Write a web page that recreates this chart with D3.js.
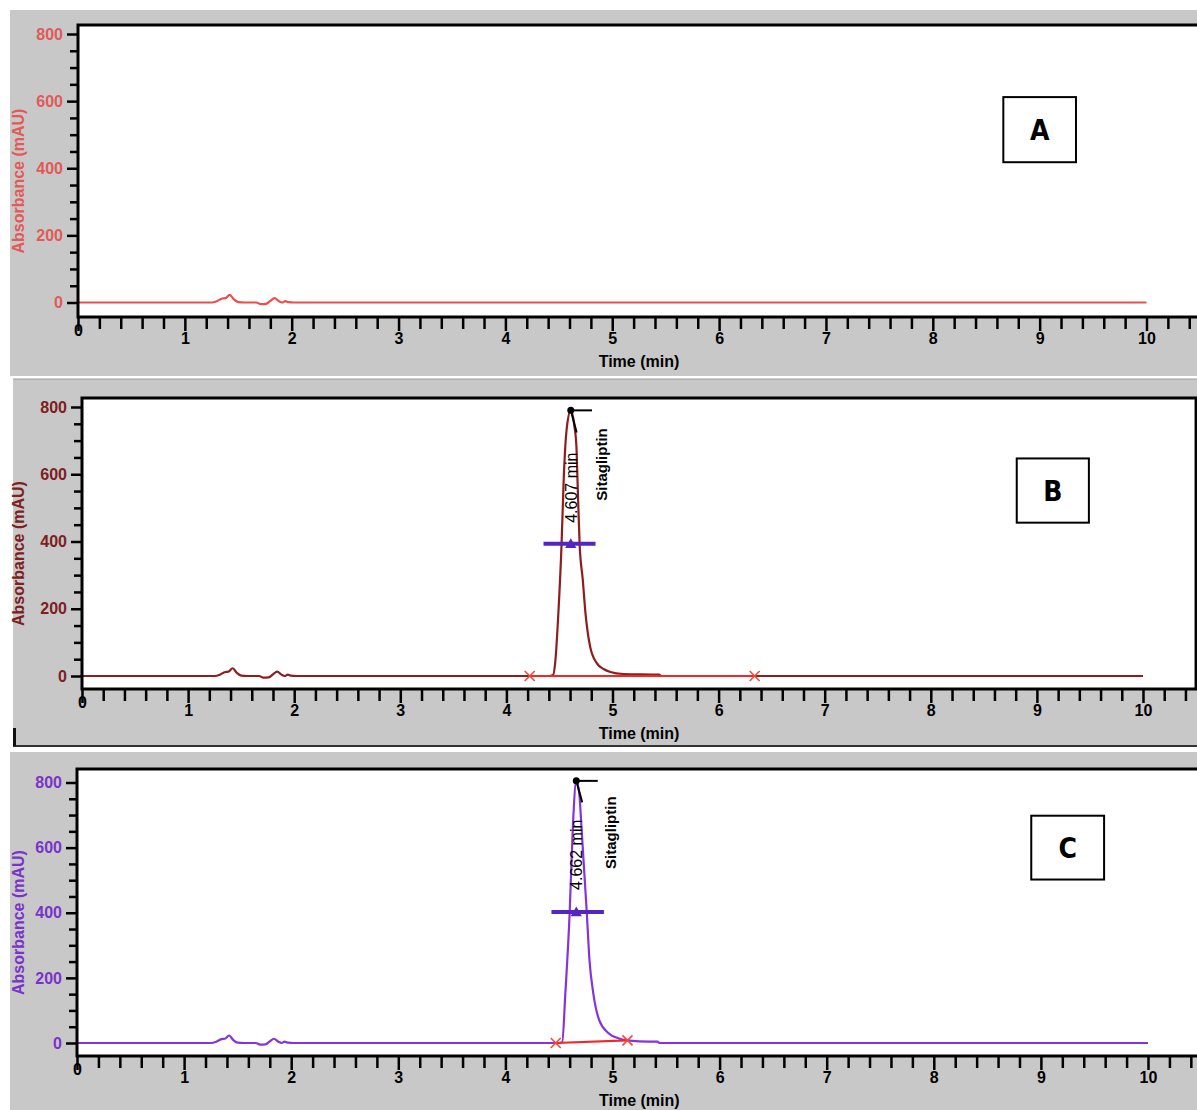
<!DOCTYPE html>
<html>
<head>
<meta charset="utf-8">
<script src="https://cdn.jsdelivr.net/npm/d3@7"></script>
<style>
body { margin: 0; background: #fff; }
svg { display: block; }
text { font-family: "Liberation Sans", Arial, sans-serif; }
</style>
</head>
<body>
<div id="visArea"></div>
<script>

// small peaks near the solvent front, same in every run (time min, mAU)
var frontPeaks = [[0,0],[1.25,0],[1.30,4],[1.35,12],[1.38,13],[1.42,23],[1.46,9],[1.50,1],[1.56,0],
                  [1.67,0],[1.71,-5],[1.76,-4],[1.80,5],[1.84,13],[1.88,4],[1.91,0],[1.94,4],[1.97,1],[2.02,0]];

// sitagliptin peak, standard run (B) and sample run (C)
var peakB = [[4.40,0],[4.44,3],[4.46,40],[4.49,188],[4.52,393],[4.54,584],[4.57,740],[4.607,790],
             [4.64,745],[4.66,682],[4.67,584],[4.69,393],[4.72,286],[4.745,188],[4.79,86],[4.85,39],
             [4.92,20],[4.98,12],[5.10,6],[5.44,4],[5.46,0]];
var peakC = [[4.50,0],[4.53,2],[4.56,154],[4.60,400],[4.63,665],[4.662,805],[4.69,765],[4.71,665],
             [4.76,400],[4.785,255],[4.82,154],[4.875,71],[4.96,31],[5.06,14],[5.14,8],[5.25,5],
             [5.42,4],[5.44,0]];
var runEnd = [[10,0]];

var traceA = frontPeaks.concat(runEnd);
var traceB = frontPeaks.concat(peakB, runEnd);
var traceC = frontPeaks.concat(peakC, runEnd);

// integration baselines (start / end marks)
var baselineB = [[4.22,0],[6.34,0]];
var baselineC = [[4.47,0],[5.14,8]];

// apex, half height width bar [from, to, height], labels
var apexB = [4.607, 790];
var apexC = [4.662, 805];
var halfB = [4.35, 4.84, 393];
var halfC = [4.43, 4.92, 402];
var rtLabels = ['4.607 min', '4.662 min'];
var rtLabelPos = [[4.607, 560], [4.662, 578]];
var peakName = 'Sitagliptin';
var namePos = [[4.90, 629], [4.99, 646]];

// panel letters and their boxes [t0, t1, vTop, vBottom]
var letters = ['A', 'B', 'C'];
var letterBoxes = [[8.66, 9.34, 612, 418], [8.81, 9.49, 647, 456], [8.91, 9.59, 698, 502]];

// axis ticks
var xTicks = d3.range(0, 11);
var xMinor = d3.range(1, 53).map(function(i){ return i / 5; }).filter(function(d){ return notWhole(d); });
var yTicks = [0, 200, 400, 600, 800];
var yMinor = [50, 100, 150, 250, 300, 350, 450, 500, 550, 650, 700, 750];

function notWhole(d){ return Math.abs(d - Math.round(d)) > 0.01; }


var svg = d3.select('#visArea')
            .append('svg')
            .attr('width', 1197)
            .attr('height', 1110);

var panels = [
  { trace: traceA, bg: [10, 10, 1187, 366], x0: 78, x10: 1146.5, y0: 302.5, y800: 34, top: 25, bottom: 317,
    axisColor: '#e05a58', lineColor: '#ea4f4c' },
  { trace: traceB, bg: [13, 379, 1184, 367], x0: 82, x10: 1143, y0: 676, y800: 407, top: 398, bottom: 689,
    axisColor: '#7c2020', lineColor: '#8e1d1d',
    baseline: baselineB, apex: apexB, half: halfB, rt: 0 },
  { trace: traceC, bg: [10, 752, 1187, 358], x0: 77, x10: 1148, y0: 1043, y800: 782.5, top: 769, bottom: 1056,
    axisColor: '#7a33c8', lineColor: '#8533dc',
    baseline: baselineC, apex: apexC, half: halfC, rt: 1 }
];

panels.forEach(function(p, i){ drawPanel(p, i); });

// frame lines of the middle screenshot
svg.append('line').attr('x1', 13).attr('x2', 1197).attr('y1', 379).attr('y2', 379)
   .style('stroke', '#9a9a9a').style('stroke-width', 1);
svg.append('line').attr('x1', 13).attr('x2', 1197).attr('y1', 746).attr('y2', 746)
   .style('stroke', '#333').style('stroke-width', 2);
svg.append('line').attr('x1', 14.5).attr('x2', 14.5).attr('y1', 728).attr('y2', 746)
   .style('stroke', '#111').style('stroke-width', 3);


function drawPanel(p, idx){
  var g = svg.append('g');

  g.append('rect')
   .attr('x', p.bg[0]).attr('y', p.bg[1])
   .attr('width', p.bg[2]).attr('height', p.bg[3])
   .attr('fill', '#c8c8c8');

  var x = d3.scaleLinear().domain([0, 10]).range([p.x0, p.x10]);
  var y = d3.scaleLinear().domain([0, 800]).range([p.y0, p.y800]);
  var xRight = x(10.5);

  g.append('rect')
   .attr('x', p.x0).attr('y', p.top)
   .attr('width', xRight - p.x0).attr('height', p.bottom - p.top)
   .attr('fill', '#ffffff');

  // x axis ticks
  var xm = g.append('g').attr('transform', 'translate(0,' + p.bottom + ')')
            .call(d3.axisBottom(x).tickValues(xMinor).tickSize(12).tickFormat(''));
  var xM = g.append('g').attr('transform', 'translate(0,' + p.bottom + ')')
            .call(d3.axisBottom(x).tickValues(xTicks).tickSize(14).tickPadding(2).tickFormat(d3.format('d')));
  xM.selectAll('text')
    .style('font-size', '16px').style('font-weight', 'bold').style('fill', '#000');
  xM.selectAll('.tick').filter(function(d){ return d === 0; }).select('text').attr('y', 8);

  // y axis ticks
  var ym = g.append('g').attr('transform', 'translate(' + p.x0 + ',0)')
            .call(d3.axisLeft(y).tickValues(yMinor).tickSize(8).tickFormat(''));
  var yM = g.append('g').attr('transform', 'translate(' + p.x0 + ',0)')
            .call(d3.axisLeft(y).tickValues(yTicks).tickSize(11).tickPadding(4));
  yM.selectAll('text')
    .style('font-size', '16px').style('font-weight', 'bold').style('fill', p.axisColor);

  [xm, xM, ym, yM].forEach(function(a){
    a.select('.domain').remove();
    a.selectAll('line').style('stroke', '#000').style('stroke-width', 2.5);
  });

  // axis titles
  g.append('text')
   .attr('transform', 'translate(24,' + ((p.top + p.bottom) / 2 + 10) + ') rotate(-90)')
   .style('text-anchor', 'middle')
   .style('font-size', '16px').style('font-weight', 'bold')
   .style('fill', p.axisColor)
   .text('Absorbance (mAU)');

  g.append('text')
   .attr('x', (p.x0 + xRight) / 2)
   .attr('y', p.bottom + 50)
   .style('text-anchor', 'middle')
   .style('font-size', '16px').style('font-weight', 'bold')
   .style('fill', '#000')
   .text('Time (min)');

  // chromatogram
  var line = d3.line()
               .x(function(d){ return x(d[0]); })
               .y(function(d){ return y(d[1]); })
               .curve(d3.curveMonotoneX);

  g.append('path')
   .datum(p.trace)
   .attr('d', line)
   .attr('fill', 'none')
   .style('stroke', p.lineColor)
   .style('stroke-width', 2.2);

  if (p.baseline){
    g.append('path')
     .datum(p.baseline)
     .attr('d', d3.line().x(function(d){ return x(d[0]); }).y(function(d){ return y(d[1]); }))
     .attr('fill', 'none')
     .style('stroke', '#f02828')
     .style('stroke-width', 2.2);

    var marks = g.append('g').selectAll('g')
                 .data(p.baseline)
                 .enter()
                 .append('g')
                 .attr('transform', function(d){ return 'translate(' + x(d[0]) + ',' + y(d[1]) + ')'; });
    marks.append('line').attr('x1', -5).attr('y1', -5).attr('x2', 5).attr('y2', 5);
    marks.append('line').attr('x1', -5).attr('y1', 5).attr('x2', 5).attr('y2', -5);
    marks.selectAll('line').style('stroke', '#f04a3c').style('stroke-width', 1.6);

    // width at half height
    g.append('line')
     .attr('x1', x(p.half[0])).attr('x2', x(p.half[1]))
     .attr('y1', y(p.half[2])).attr('y2', y(p.half[2]))
     .style('stroke', '#5525c2').style('stroke-width', 4);
    g.append('path')
     .attr('d', d3.symbol().type(d3.symbolTriangle).size(55))
     .attr('transform', 'translate(' + x(p.apex[0]) + ',' + (y(p.half[2]) + 1) + ')')
     .attr('fill', '#5525c2');

    // apex flag
    g.append('line')
     .attr('x1', x(p.apex[0])).attr('x2', x(p.apex[0] + 0.2))
     .attr('y1', y(p.apex[1])).attr('y2', y(p.apex[1]))
     .style('stroke', '#000').style('stroke-width', 2);
    g.append('line')
     .attr('x1', x(p.apex[0])).attr('x2', x(p.apex[0] + 0.055))
     .attr('y1', y(p.apex[1])).attr('y2', y(p.apex[1] - 66))
     .style('stroke', '#000').style('stroke-width', 2);
    g.append('circle')
     .attr('cx', x(p.apex[0])).attr('cy', y(p.apex[1]))
     .attr('r', 3.5).attr('fill', '#000');

    var rp = rtLabelPos[p.rt];
    g.append('text')
     .attr('transform', 'translate(' + (x(rp[0]) + 6) + ',' + y(rp[1]) + ') rotate(-90)')
     .style('text-anchor', 'middle')
     .style('font-size', '16px')
     .style('fill', '#000')
     .text(rtLabels[p.rt]);

    var np = namePos[p.rt];
    g.append('text')
     .attr('transform', 'translate(' + (x(np[0]) + 5) + ',' + y(np[1]) + ') rotate(-90)')
     .style('text-anchor', 'middle')
     .style('font-size', '15px').style('font-weight', 'bold')
     .style('fill', '#000')
     .text(peakName);
  }

  // frame on top
  g.append('rect')
   .attr('x', p.x0).attr('y', p.top)
   .attr('width', xRight - p.x0).attr('height', p.bottom - p.top)
   .attr('fill', 'none')
   .style('stroke', '#000').style('stroke-width', 3);

  // panel letter
  var b = letterBoxes[idx];
  g.append('rect')
   .attr('x', x(b[0])).attr('y', y(b[2]))
   .attr('width', x(b[1]) - x(b[0])).attr('height', y(b[3]) - y(b[2]))
   .attr('fill', '#fff')
   .style('stroke', '#000').style('stroke-width', 2);
  g.append('text')
   .attr('x', (x(b[0]) + x(b[1])) / 2)
   .attr('y', (y(b[2]) + y(b[3])) / 2 + 10)
   .style('text-anchor', 'middle')
   .style('font-family', '"Liberation Sans Narrow", "DejaVu Sans Condensed", sans-serif')
   .style('font-size', '28px').style('font-weight', 'bold')
   .style('fill', '#000')
   .text(letters[idx]);
}

</script>
</body>
</html>
